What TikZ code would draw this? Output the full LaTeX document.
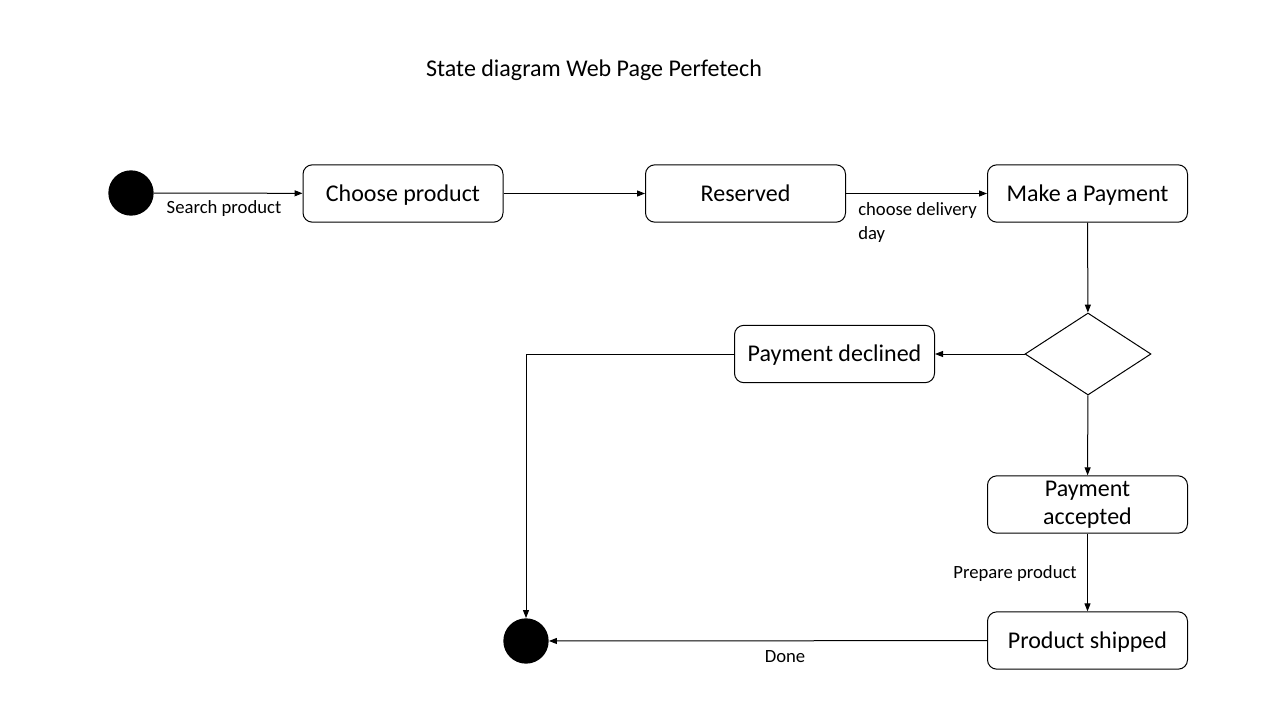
\documentclass[tikz,border=0pt]{standalone}
\usepackage{fontspec}
\setmainfont{Carlito}
\usetikzlibrary{arrows.meta,shapes.geometric}
\begin{document}
\begin{tikzpicture}[x=0.75pt,y=-0.75pt,
        state/.style={draw,line width=0.75pt,rectangle,rounded corners=7pt,minimum width=150pt,minimum height=43pt,align=center,text height=12pt,text depth=0.5pt,font=\fontsize{18}{21}\selectfont},
        dot/.style={circle,fill=black,minimum size=34pt,inner sep=0pt},
        lbl/.style={font=\fontsize{14}{18}\selectfont},
        trans/.style={line width=0.75pt,-{Triangle[length=6pt,width=4.5pt]}}]
        \useasboundingbox (0,0) rectangle (1280,720);
        %% Title
        \node[font=\fontsize{18}{21}\selectfont] (title) at (594,70) {State diagram Web Page Perfetech};
        %% States
        \node[dot] (start) at (131,193) {};
        \node[state] (choose) at (403,193.5) {Choose product};
        \node[state] (reserved) at (745.5,193.5) {Reserved};
        \node[state] (pay) at (1087.5,193.5) {Make a Payment};
        \node[draw,line width=0.75pt,diamond,aspect=1.54,minimum width=94.5pt,minimum height=61.5pt,inner sep=0pt] (check) at (1088,354) {};
        \node[state] (declined) at (834.5,354) {Payment declined};
        \node[state,text height=,text depth=] (accepted) at (1087.5,504.5) {Payment\\accepted};
        \node[state] (shipped) at (1087.5,640.5) {Product shipped};
        \node[dot] (stop) at (526,641) {};
        \coordinate (corner) at (526,354);
        %% Transitions
        \draw[trans] (start) -- (choose);
        \draw[trans] (choose) -- (reserved);
        \draw[trans] (reserved) -- (pay);
        \draw[trans] (pay) -- (check);
        \draw[trans] (check) -- (declined);
        \draw[trans] (check) -- (accepted);
        \draw[trans] (accepted) -- (shipped);
        \draw[trans] (shipped) -- (stop);
        \draw[trans] (declined.west) -- (corner) -- (stop);
        %% Labels
        \node[lbl] (lsearch) at (224,209) {Search product};
        \node[lbl,align=left,anchor=north west,inner sep=0pt] (ldelivery) at (858,202) {choose delivery\\day};
        \node[lbl] (lprepare) at (1015,574) {Prepare product};
        \node[lbl] (ldone) at (785,657) {Done};
    \end{tikzpicture}
\end{document}
